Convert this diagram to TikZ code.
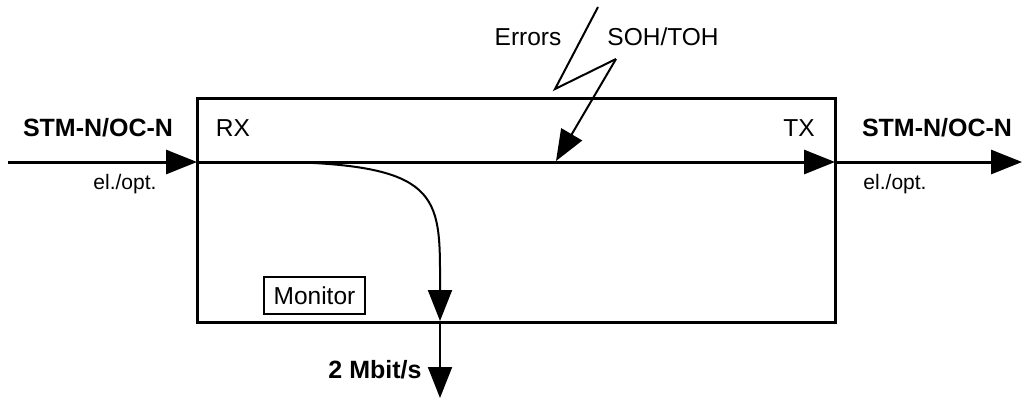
\documentclass[tikz,border=0pt]{standalone}
\usepackage{fontspec}
\setmainfont{Liberation Sans}
\usetikzlibrary{arrows.meta}
\begin{document}
\begin{tikzpicture}[x=1pt,y=-1pt,
  tip/.style={-{Triangle[length=31pt,width=24pt]}},
  thick line/.style={line width=3pt},
  label/.style={font=\fontsize{24.5}{28}\selectfont, inner sep=0pt},
  blabel/.style={font=\fontsize{25}{28}\selectfont\bfseries, inner sep=0pt},
  slabel/.style={font=\fontsize{21}{24}\selectfont, inner sep=0pt}]
\useasboundingbox (0,0) rectangle (1024,400);
% box
\node[draw, line width=3pt, minimum width=638pt, minimum height=224pt, inner sep=0pt] (box) at (516,210) {};
% coordinates
\coordinate (in) at (8,162);
\coordinate (rx) at (197,162);
\coordinate (tx) at (835,162);
\coordinate (out) at (1022,162);
\coordinate (tap) at (288,162);
\coordinate (mon) at (440,321);
\coordinate (mbit) at (440,398);
\coordinate (l0) at (598,7);
\coordinate (l1) at (555,89);
\coordinate (l2) at (616,59);
\coordinate (hit) at (556,161);
% lines
\draw[thick line, tip] (in) -- (rx);
\draw[thick line, tip] (rx) -- (tx);
\draw[thick line, tip] (tx) -- (out);
\draw[line width=2pt, tip] (tap) .. controls (445,166) and (440,200) .. (mon);
\draw[line width=2pt, tip] (mon) -- (mbit);
\draw[line width=2pt, line join=miter] (l0) -- (l1) -- (l2);
\draw[line width=2pt, tip] (l2) -- (hit);
% texts
\node[blabel] (inlab) at (98,128) {STM-N/OC-N};
\node[slabel] (inel) at (125,184) {el./opt.};
\node[label] (rxlab) at (233,128) {RX};
\node[label] (txlab) at (799,128) {TX};
\node[blabel] (outlab) at (937,128) {STM-N/OC-N};
\node[slabel] (outel) at (895,184) {el./opt.};
\node[label] (err) at (528,37) {Errors};
\node[label] (soh) at (663,37) {SOH/TOH};
\node[label, draw, line width=1.5pt, minimum width=101pt, minimum height=37pt] (monitor) at (314.5,295.5) {Monitor};
\node[blabel] (mb) at (375,370) {2 Mbit/s};
\end{tikzpicture}
\end{document}
